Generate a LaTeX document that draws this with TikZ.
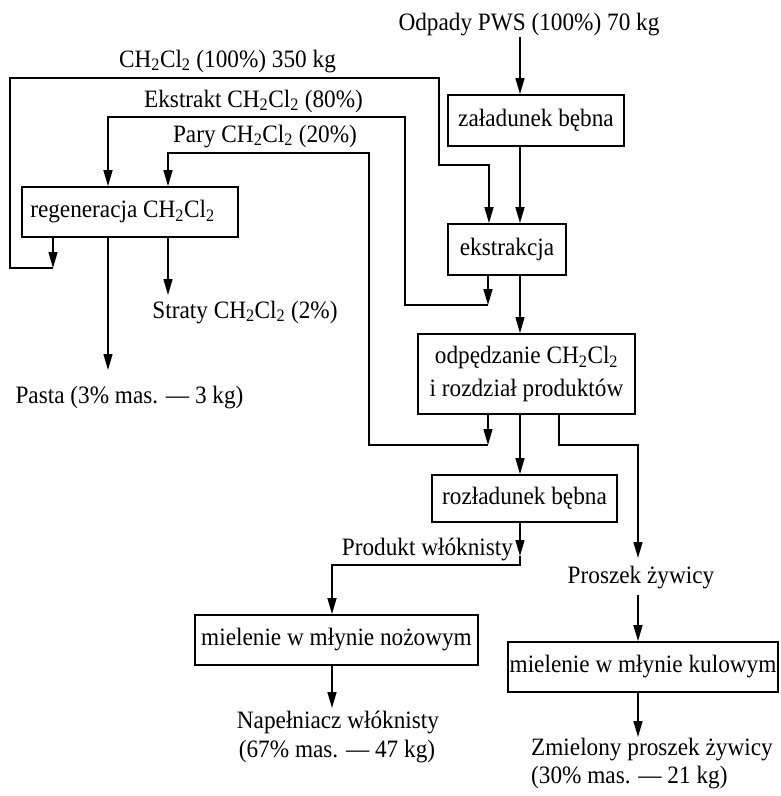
\documentclass[tikz,border=0pt]{standalone}
\usepackage{fontspec}
\setmainfont[FakeStretch=0.93]{Liberation Serif}
\usetikzlibrary{arrows.meta}
\begin{document}
\begin{tikzpicture}[x=1pt,y=-1pt,
  font=\fontsize{25}{25}\selectfont,
  box/.style={draw,line width=1.8pt,inner sep=0pt,align=center},
  lbl/.style={inner sep=0pt,anchor=base},
  conn/.style={line width=1.4pt},
  arr/.style={conn,-{Triangle[length=16pt,width=9pt]}}]
\useasboundingbox (0,0) rectangle (780,796);
% boxes
\node[box,minimum width=176pt,minimum height=51pt] (zal) at (536,120.5) {załadunek bębna};
\node[box,minimum width=118pt,minimum height=51pt] (eks) at (507,249.5) {ekstrakcja};
\node[box,minimum width=216pt,minimum height=50pt] (regen) at (130,212) {};
\node[inner sep=0pt] (regentxt) at (122.5,212) {regeneracja CH\textsubscript{2}Cl\textsubscript{2}};
\node[box,minimum width=217pt,minimum height=80pt,font=\fontsize{25}{33}\selectfont] (odp) at (526.5,374) {odpędzanie CH\textsubscript{2}Cl\textsubscript{2}\\ i rozdział produktów};
\node[box,minimum width=185pt,minimum height=47pt] (rozl) at (524.5,498.5) {rozładunek bębna};
\node[box,minimum width=283pt,minimum height=50pt] (noz) at (336.5,640) {mielenie w młynie nożowym};
\node[box,minimum width=270pt,minimum height=50pt] (kul) at (643,667) {mielenie w młynie kulowym};
% labels
\node[lbl] (odpady) at (529,30) {Odpady PWS (100\%) 70 kg};
\node[lbl] (ch350) at (227.5,67) {CH\textsubscript{2}Cl\textsubscript{2} (100\%) 350 kg};
\node[lbl] (ekstrakt) at (253.5,107) {Ekstrakt CH\textsubscript{2}Cl\textsubscript{2} (80\%)};
\node[lbl] (pary) at (265,142) {Pary CH\textsubscript{2}Cl\textsubscript{2} (20\%)};
\node[lbl] (straty) at (245,318) {Straty CH\textsubscript{2}Cl\textsubscript{2} (2\%)};
\node[lbl] (pasta) at (129.5,403) {Pasta (3\% mas. — 3 kg)};
\node[lbl] (produkt) at (427.5,555) {Produkt włóknisty};
\node[lbl] (proszek) at (641,583) {Proszek żywicy};
\node[lbl] (napel1) at (338,728) {Napełniacz włóknisty};
\node[lbl] (napel2) at (337,757) {(67\% mas. — 47 kg)};
\node[lbl,anchor=base west] (zmiel1) at (531,755) {Zmielony proszek żywicy};
\node[lbl,anchor=base west] (zmiel2) at (531,783) {(30\% mas. — 21 kg)};
% coordinates
\coordinate (xA) at (520,0);
\coordinate (Od) at (520,37);
\coordinate (L0) at (53,268);
\coordinate (L1) at (10,268);
\coordinate (L2) at (10,78);
\coordinate (L3) at (439,78);
\coordinate (L4) at (439,165);
\coordinate (L5) at (489,165);
\coordinate (E1) at (488,305);
\coordinate (E2) at (405,305);
\coordinate (E3) at (405,117);
\coordinate (E4) at (108,117);
\coordinate (P1) at (488,445);
\coordinate (P2) at (369,445);
\coordinate (P3) at (369,153);
\coordinate (P4) at (168,153);
\coordinate (R1) at (559,445);
\coordinate (R2) at (638,445);
\coordinate (Rt) at (638,558);
\coordinate (Rs) at (638,595);
\coordinate (W0) at (520,556);
\coordinate (W1) at (520,565);
\coordinate (W2) at (332,565);
\coordinate (Nt) at (332,708);
\coordinate (Zt) at (638,737);
\coordinate (Pa) at (108,370);
\coordinate (St) at (168,295);
% connectors
\draw[arr] (Od) -- (zal.north -| xA);
\draw[arr] (zal.south -| xA) -- (eks.north -| xA);
\draw[arr] (regen.south -| L0) -- (L0);
\draw[arr] (L0) -- (L1) -- (L2) -- (L3) -- (L4) -- (L5) -- (eks.north -| L5);
\draw[arr] (eks.south -| E1) -- (E1);
\draw[arr] (E1) -- (E2) -- (E3) -- (E4) -- (regen.north -| E4);
\draw[arr] (odp.south -| P1) -- (P1);
\draw[arr] (P1) -- (P2) -- (P3) -- (P4) -- (regen.north -| P4);
\draw[arr] (eks.south -| xA) -- (odp.north -| xA);
\draw[arr] (odp.south -| xA) -- (rozl.north -| xA);
\draw[arr] (odp.south -| R1) -- (R1) -- (R2) -- (Rt);
\draw[arr] (Rs) -- (kul.north -| Rs);
\draw[arr] (rozl.south -| xA) -- (W0);
\draw[arr] (W0) -- (W1) -- (W2) -- (noz.north -| W2);
\draw[arr] (noz.south -| W2) -- (Nt);
\draw[arr] (kul.south -| Zt) -- (Zt);
\draw[arr] (regen.south -| Pa) -- (Pa);
\draw[arr] (regen.south -| St) -- (St);
\end{tikzpicture}
\end{document}
